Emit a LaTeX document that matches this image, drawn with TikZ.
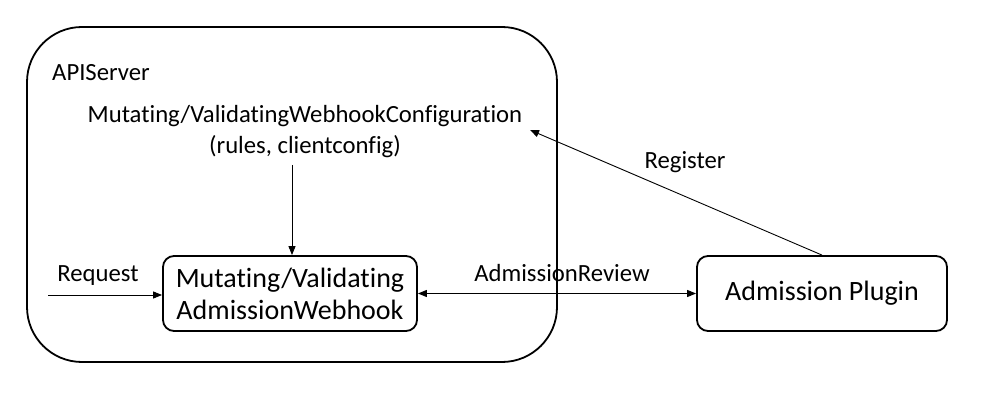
\documentclass[tikz,border=0pt]{standalone}
\usepackage{fontspec}
\setmainfont[Ligatures=NoCommon]{Carlito}
\usetikzlibrary{arrows.meta}
\begin{document}
\begin{tikzpicture}[x=1pt,y=-1pt,
  boxstyle/.style={draw,line width=1.8pt,rounded corners=11pt,minimum width=254pt,minimum height=75pt,inner sep=0pt,align=center,font=\fontsize{28}{32}\selectfont},
  lbl/.style={font=\fontsize{24.7}{31}\selectfont,inner sep=0pt},
  arr/.style={line width=0.9pt,-{Triangle[length=9pt,width=7pt]}},
  darr/.style={line width=0.9pt,{Triangle[length=9pt,width=7pt]}-{Triangle[length=9pt,width=7pt]}}]
\useasboundingbox (0,0) rectangle (985,403);
\draw[line width=1.8pt,rounded corners=55pt] (27,27) rectangle (557,362);
\node[lbl,anchor=west] (api) at (52,73) {APIServer};
\node[lbl,align=center] (cfg) at (305,132) {Mutating/ValidatingWebhookConfiguration\\(rules, clientconfig)};
\node[boxstyle] (wh) at (290,293.5) {Mutating/Validating\\AdmissionWebhook};
\node[boxstyle,minimum width=250pt] (ap) at (822,293.5) {Admission Plugin};
\coordinate (reqstart) at (48,295);
\coordinate (cfgbot) at (292,165);
\coordinate (cfgtip) at (530,130);
\node[lbl] (req) at (98,276) {Request};
\node[lbl] (rev) at (562,273) {AdmissionReview};
\node[lbl] (reg) at (685,162) {Register};
\draw[arr] (reqstart) -- (reqstart -| wh.west);
\draw[arr] (cfgbot) -- (cfgbot |- wh.north);
\draw[darr] (wh.east) -- (ap.west);
\draw[arr] (ap.north) -- (cfgtip);
\end{tikzpicture}
\end{document}
